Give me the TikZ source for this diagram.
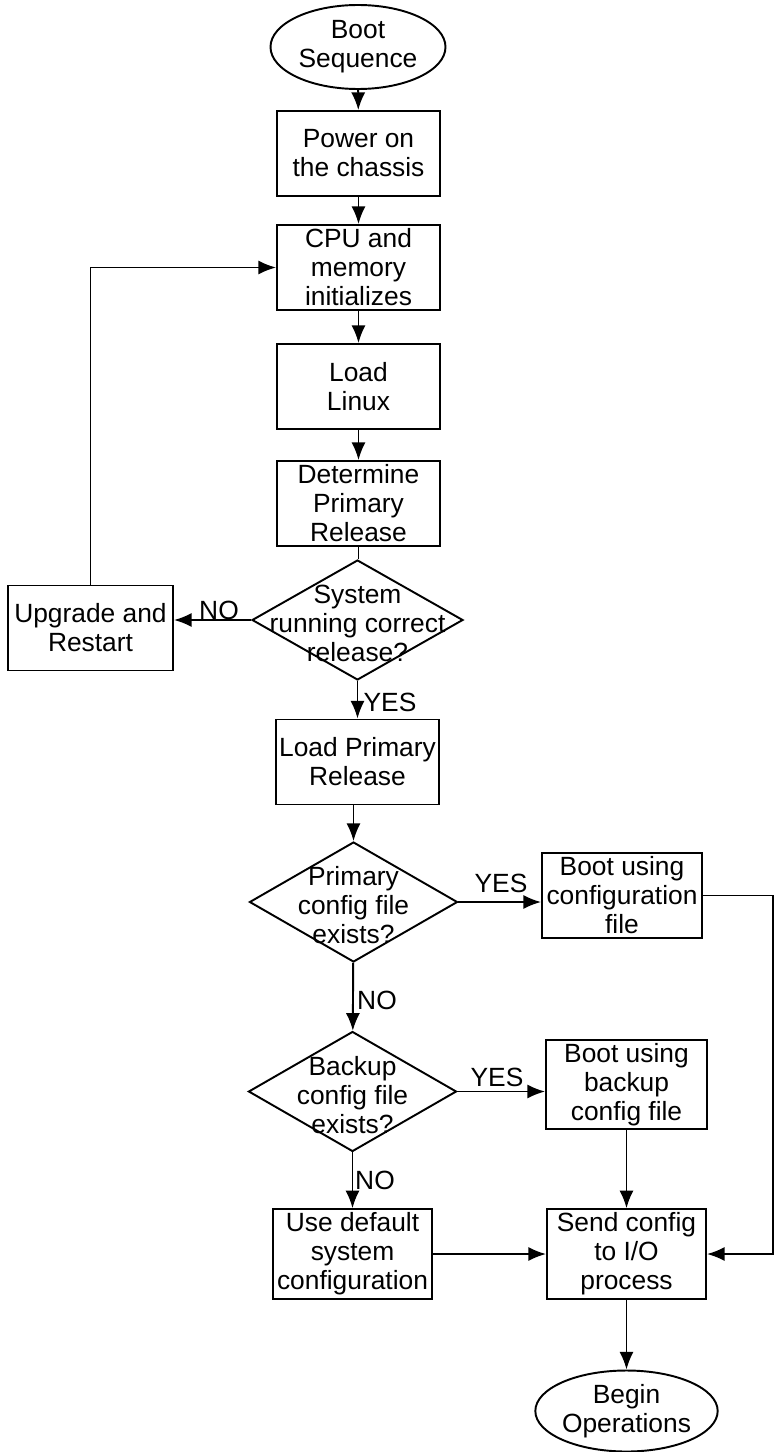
\documentclass[tikz,border=0pt]{standalone}
\usepackage{fontspec}
\setmainfont{Liberation Sans}
\usepackage{tikz}
\usetikzlibrary{shapes,arrows,arrows.meta}

\begin{document}
\begin{tikzpicture}[line width=1.1pt, >={Latex[length=10pt,width=8pt]}, textbox/.style={font=\fontsize{15}{16.5}\selectfont, draw, minimum width=3.26cm, minimum height=1.7cm, inner sep=2pt, align=center},
decision/.style={draw, diamond, minimum width=4.16cm, minimum height=2.4cm, inner sep=0pt},
terminal/.style={font=\fontsize{15}{16.5}\selectfont, draw, ellipse, minimum width=3.5cm, minimum height=1.68cm, inner sep=0pt, align=center},
answer/.style={font=\fontsize{15}{16.5}\selectfont, inner sep=0pt}]
\useasboundingbox (0,0) rectangle (15.5,-29.04);
%main column
\node[terminal] (v1) at (7.16,-0.94) {Boot\\Sequence};
\node[textbox] (v2) at (7.17,-3.07) {Power on\\the chassis};
\node[textbox] (v3) at (7.17,-5.35) {CPU and\\memory\\initializes};
\node[textbox] (v4) at (7.17,-7.73) {Load\\Linux};
\node[textbox] (v5) at (7.17,-10.07) {Determine\\Primary\\Release};
\node[decision, minimum width=4.22cm, label={[font=\fontsize{15}{16.5}\selectfont, align=center, yshift=-2pt]center:System\\running correct\\release?}] (v6) at (7.15,-12.4) {};
\node[textbox, minimum width=3.3cm] (v7) at (1.81,-12.56) {Upgrade and\\Restart};
\node[textbox] (v8) at (7.15,-15.24) {Load Primary\\Release};
\node[decision, label={[font=\fontsize{15}{16.5}\selectfont, align=center, yshift=-2pt]center:Primary\\config file\\exists?}] (v9) at (7.07,-18.04) {};
\node[decision, label={[font=\fontsize{15}{16.5}\selectfont, align=center, yshift=-2pt]center:Backup\\config file\\exists?}] (v11) at (7.05,-21.83) {};
\node[textbox, minimum width=3.18cm] (v13) at (7.05,-25.08) {Use default\\system\\configuration};
%right column
\node[textbox, minimum width=3.2cm] (v10) at (12.44,-17.91) {Boot using\\configuration\\file};
\node[textbox, minimum width=3.22cm] (v12) at (12.53,-21.69) {Boot using\\backup\\config file};
\node[textbox, minimum width=3.18cm] (v14) at (12.53,-25.08) {Send config\\to I/O\\process};
\node[terminal, minimum height=1.62cm] (v15) at (12.53,-28.22) {Begin\\Operations};
\coordinate (c1) at (15.46,-18.04);
%answers
\node[answer] (a1) at (4.38,-12.2) {NO};
\node[answer] (a2) at (7.8,-14.04) {YES};
\node[answer] (a3) at (10.02,-17.66) {YES};
\node[answer] (a4) at (7.54,-20.0) {NO};
\node[answer] (a5) at (9.94,-21.55) {YES};
\node[answer] (a6) at (7.5,-23.6) {NO};
\draw [->] (v1) edge (v2);
\draw [->] (v2) edge (v3);
\draw [->] (v3) edge (v4);
\draw [->] (v4) edge (v5);
\draw (v5.south) -- (v5.south |- v6.north);
\draw [->] (v6.west) -- (v6.west -| v7.east);
\draw [->] (v7.north) |- (v3.west);
\draw [->] (v6.south) -- (v6.south |- v8.north);
\draw [->] (v8.south -| v9.north) -- (v9.north);
\draw [->] (v9.east) -- (v9.east -| v10.west);
\draw [->] (v9) edge (v11);
\draw [->] (v11.east) -- (v11.east -| v12.west);
\draw [->] (v11) edge (v13);
\draw [->] (v12) edge (v14);
\draw [->] (v13) edge (v14);
\draw [->] (v10.east) -- (v10.east -| c1) |- (v14.east);
\draw [->] (v14) edge (v15);
\end{tikzpicture}
\end{document}
